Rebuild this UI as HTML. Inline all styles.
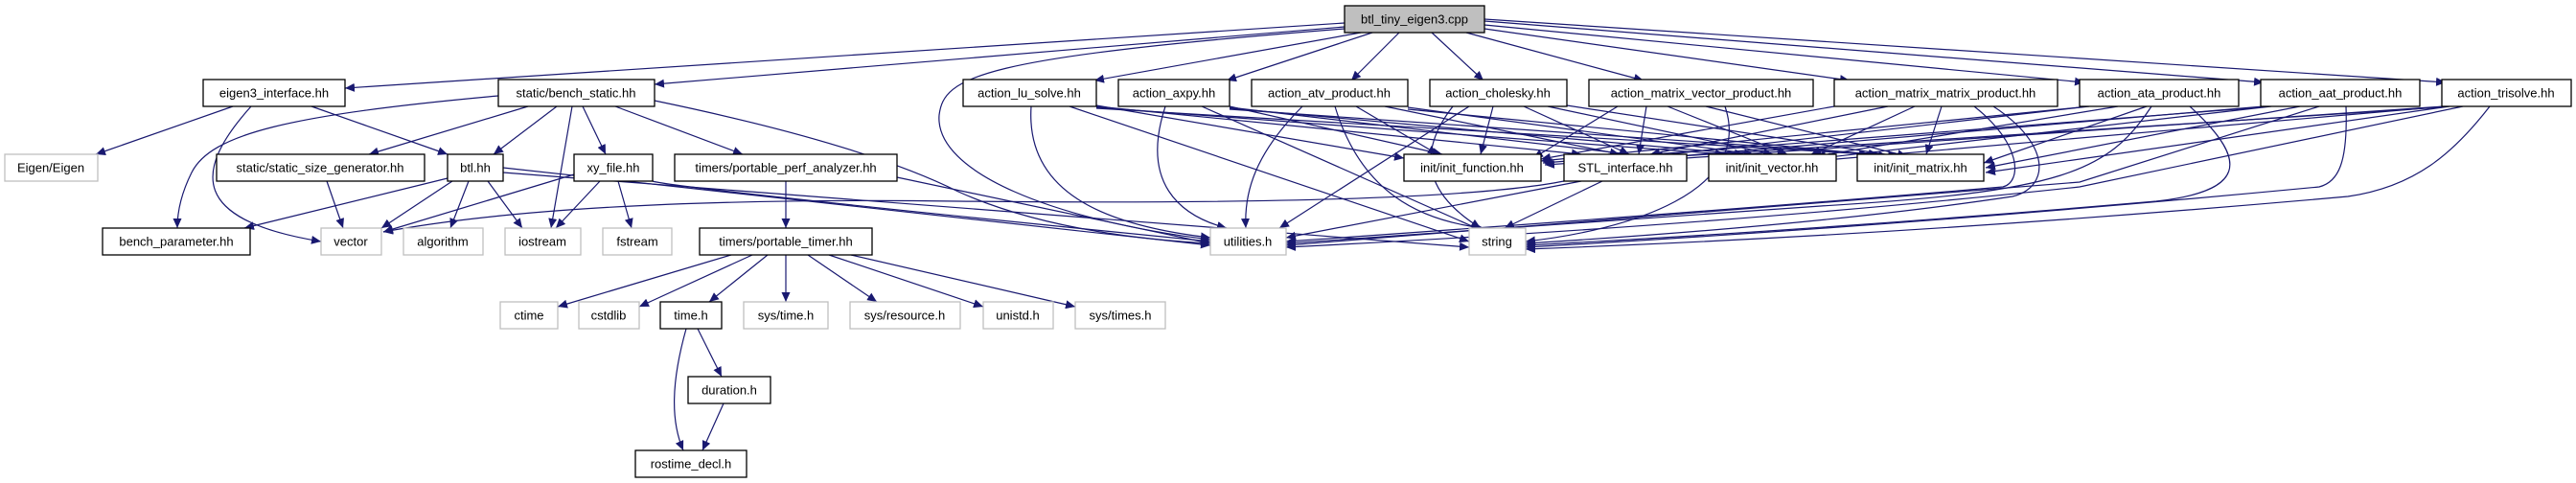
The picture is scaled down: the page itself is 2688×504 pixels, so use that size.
<!DOCTYPE html>
<html><head><meta charset="utf-8"><style>
html,body{margin:0;padding:0;background:#fff;}
svg{display:block;}
text{font-family:"Liberation Sans",sans-serif;font-size:13px;fill:#000;text-anchor:middle;}
.e{fill:none;stroke:#191970;stroke-width:1.2;}
.n{fill:#fff;stroke:#000;stroke-width:1.3;}
.g{fill:#fff;stroke:#bfbfbf;stroke-width:1.3;}
</style></head><body>
<svg width="2688" height="504" viewBox="0 0 2688 504" xmlns="http://www.w3.org/2000/svg">
<defs><marker id="a" markerUnits="userSpaceOnUse" markerWidth="11" markerHeight="9" refX="10" refY="4.5" orient="auto"><path d="M0,0 L10,4.5 L0,9 z" fill="#191970"/></marker></defs>
<g class="e" marker-end="url(#a)">
<!-- cpp -->
<path d="M1403,24 L360,92"/>
<path d="M1403,28 L683,88"/>
<path d="M1403,30 C1020,60 985,80 980,120 C975,180 1100,230 1263,250"/>
<path d="M1420,34 L1142,84"/>
<path d="M1432,34 L1280,84"/>
<path d="M1460,34 L1410,84"/>
<path d="M1494,34 L1548,84"/>
<path d="M1530,34 L1715,84"/>
<path d="M1549,30 L1930,84"/>
<path d="M1549,26 L2175,86"/>
<path d="M1549,22 L2362,86"/>
<path d="M1549,20 L2552,86"/>
<!-- eigen3 -->
<path d="M243,111 L100,161"/>
<path d="M325,111 L467,161"/>
<path d="M262,111 C200,180 200,230 335,252"/>
<!-- bench_static -->
<path d="M520,100 C300,120 220,140 200,180 Q185,210 185,238"/>
<path d="M551,111 L385,161"/>
<path d="M581,111 L515,161"/>
<path d="M597,111 L575,238"/>
<path d="M608,111 L632,161"/>
<path d="M642,111 L775,161"/>
<path d="M683,105 Q900,150 1000,200 Q1100,245 1263,254"/>
<path d="M341,189 L358,238"/>
<!-- btl -->
<path d="M467,186 L255,238"/>
<path d="M472,189 L398,238"/>
<path d="M489,189 L470,238"/>
<path d="M509,189 L545,238"/>
<path d="M525,175 L1263,256"/>
<path d="M525,180 L1533,258"/>
<!-- xy -->
<path d="M599,182 L400,242"/>
<path d="M626,189 L580,238"/>
<path d="M645,189 L659,238"/>
<path d="M681,189 Q700,196 1263,252"/>
<!-- perf -->
<path d="M820,189 L820,238"/>
<path d="M936,185 L1263,254"/>
<!-- STL -->
<path d="M1632,189 Q1500,215 1000,210 Q600,205 400,242"/>
<path d="M1650,189 L1342,248"/>
<path d="M1672,189 L1570,238"/>
<!-- timer -->
<path d="M763,266 L582,320"/>
<path d="M785,266 L667,320"/>
<path d="M801,266 L740,315"/>
<path d="M820,266 L820,315"/>
<path d="M843,266 L915,315"/>
<path d="M865,266 L1026,320"/>
<path d="M888,266 L1122,320"/>
<path d="M728,343 L753,393"/>
<path d="M716,343 C700,400 700,440 713,470"/>
<path d="M755,421 L733,470"/>
<!-- lu_solve -->
<path d="M1144,110 L1465,165"/>
<path d="M1144,111 L1650,161"/>
<path d="M1144,112 L1800,161"/>
<path d="M1144,113 L1950,161"/>
<path d="M1076,111 C1070,200 1150,235 1263,248"/>
<path d="M1116,111 L1533,252"/>
<!-- axpy -->
<path d="M1216,111 C1190,190 1230,225 1280,238"/>
<path d="M1254,111 L1545,240"/>
<path d="M1283,111 L1505,161"/>
<path d="M1283,112 L1700,161"/>
<path d="M1283,113 L1820,161"/>
<path d="M1283,114 L1960,161"/>
<!-- atv -->
<path d="M1359,111 C1310,160 1298,200 1300,238"/>
<path d="M1393,111 C1420,200 1480,230 1548,238"/>
<path d="M1415,111 L1500,161"/>
<path d="M1445,111 L1690,161"/>
<path d="M1469,112 L1830,161"/>
<path d="M1469,114 L1970,163"/>
<!-- cholesky -->
<path d="M1533,111 L1335,238"/>
<path d="M1516,111 C1470,170 1500,210 1545,238"/>
<path d="M1558,111 L1545,161"/>
<path d="M1590,111 L1700,161"/>
<path d="M1615,111 L1850,161"/>
<path d="M1635,110 L1980,163"/>
<!-- mvp -->
<path d="M1688,111 L1600,165"/>
<path d="M1718,111 L1710,161"/>
<path d="M1740,111 L1865,161"/>
<path d="M1780,111 L1990,163"/>
<path d="M1800,111 C1830,200 1700,240 1592,252"/>
<!-- mmp -->
<path d="M1914,111 L1608,166"/>
<path d="M1970,111 L1722,161"/>
<path d="M1998,111 L1890,161"/>
<path d="M2026,111 L2010,161"/>
<path d="M2060,111 C2110,150 2110,190 2090,195 Q1800,220 1342,252"/>
<path d="M2080,111 C2140,150 2140,195 2100,205 Q1900,235 1592,254"/>
<!-- ata -->
<path d="M2170,112 L1608,168"/>
<path d="M2180,111 L1725,163"/>
<path d="M2210,111 L1895,163"/>
<path d="M2240,111 L2070,170"/>
<path d="M2245,111 C2200,180 2150,200 1900,215 Q1600,235 1342,254"/>
<path d="M2285,111 C2350,170 2340,200 2250,210 Q1900,240 1592,256"/>
<!-- aat -->
<path d="M2359,112 L1610,170"/>
<path d="M2362,111 L1728,165"/>
<path d="M2370,111 L1900,165"/>
<path d="M2400,111 L2072,175"/>
<path d="M2420,111 L2170,190 Q1800,220 1342,256"/>
<path d="M2448,111 C2450,170 2440,190 2420,195 Q2000,235 1592,258"/>
<!-- trisolve -->
<path d="M2548,112 L1612,172"/>
<path d="M2550,111 L1730,167"/>
<path d="M2552,111 L1905,167"/>
<path d="M2556,111 L2072,180"/>
<path d="M2570,111 L2170,195 Q1800,235 1342,258"/>
<path d="M2598,111 C2560,160 2520,195 2450,205 Q2000,245 1592,260"/>
</g>
<g>
<rect x="1403" y="6" width="146" height="28" fill="#bfbfbf" stroke="#000" stroke-width="1.3"/><text x="1476" y="24.5">btl_tiny_eigen3.cpp</text>
<rect class="n" x="212" y="83" width="148" height="28"/><text x="286" y="101.5">eigen3_interface.hh</text>
<rect class="n" x="520" y="83" width="163" height="28"/><text x="601" y="101.5">static/bench_static.hh</text>
<rect class="n" x="1005" y="83" width="139" height="28"/><text x="1074" y="101.5">action_lu_solve.hh</text>
<rect class="n" x="1167" y="83" width="116" height="28"/><text x="1225" y="101.5">action_axpy.hh</text>
<rect class="n" x="1306" y="83" width="163" height="28"/><text x="1387" y="101.5">action_atv_product.hh</text>
<rect class="n" x="1492" y="83" width="143" height="28"/><text x="1563" y="101.5">action_cholesky.hh</text>
<rect class="n" x="1658" y="83" width="234" height="28"/><text x="1775" y="101.5">action_matrix_vector_product.hh</text>
<rect class="n" x="1914" y="83" width="233" height="28"/><text x="2030" y="101.5">action_matrix_matrix_product.hh</text>
<rect class="n" x="2170" y="83" width="166" height="28"/><text x="2253" y="101.5">action_ata_product.hh</text>
<rect class="n" x="2359" y="83" width="166" height="28"/><text x="2442" y="101.5">action_aat_product.hh</text>
<rect class="n" x="2548" y="83" width="135" height="28"/><text x="2615" y="101.5">action_trisolve.hh</text>
<rect class="g" x="5" y="161" width="97" height="28"/><text x="53" y="179.5">Eigen/Eigen</text>
<rect class="n" x="226" y="161" width="217" height="28"/><text x="334" y="179.5">static/static_size_generator.hh</text>
<rect class="n" x="467" y="161" width="58" height="28"/><text x="496" y="179.5">btl.hh</text>
<rect class="n" x="599" y="161" width="82" height="28"/><text x="640" y="179.5">xy_file.hh</text>
<rect class="n" x="704" y="161" width="232" height="28"/><text x="820" y="179.5">timers/portable_perf_analyzer.hh</text>
<rect class="n" x="1465" y="161" width="143" height="28"/><text x="1536" y="179.5">init/init_function.hh</text>
<rect class="n" x="1632" y="161" width="128" height="28"/><text x="1696" y="179.5">STL_interface.hh</text>
<rect class="n" x="1783" y="161" width="133" height="28"/><text x="1849" y="179.5">init/init_vector.hh</text>
<rect class="n" x="1938" y="161" width="132" height="28"/><text x="2004" y="179.5">init/init_matrix.hh</text>
<rect class="n" x="107" y="238" width="154" height="28"/><text x="184" y="256.5">bench_parameter.hh</text>
<rect class="g" x="335" y="238" width="63" height="28"/><text x="366" y="256.5">vector</text>
<rect class="g" x="421" y="238" width="83" height="28"/><text x="462" y="256.5">algorithm</text>
<rect class="g" x="527" y="238" width="79" height="28"/><text x="566" y="256.5">iostream</text>
<rect class="g" x="629" y="238" width="72" height="28"/><text x="665" y="256.5">fstream</text>
<rect class="n" x="730" y="238" width="180" height="28"/><text x="820" y="256.5">timers/portable_timer.hh</text>
<rect class="g" x="1263" y="238" width="79" height="28"/><text x="1302" y="256.5">utilities.h</text>
<rect class="g" x="1533" y="238" width="59" height="28"/><text x="1562" y="256.5">string</text>
<rect class="g" x="522" y="315" width="60" height="28"/><text x="552" y="333.5">ctime</text>
<rect class="g" x="604" y="315" width="63" height="28"/><text x="635" y="333.5">cstdlib</text>
<rect class="n" x="689" y="315" width="64" height="28"/><text x="721" y="333.5">time.h</text>
<rect class="g" x="776" y="315" width="88" height="28"/><text x="820" y="333.5">sys/time.h</text>
<rect class="g" x="887" y="315" width="115" height="28"/><text x="944" y="333.5">sys/resource.h</text>
<rect class="g" x="1026" y="315" width="73" height="28"/><text x="1062" y="333.5">unistd.h</text>
<rect class="g" x="1122" y="315" width="94" height="28"/><text x="1169" y="333.5">sys/times.h</text>
<rect class="n" x="718" y="393" width="86" height="28"/><text x="761" y="411.5">duration.h</text>
<rect class="n" x="663" y="470" width="116" height="28"/><text x="721" y="488.5">rostime_decl.h</text>
</g>
</svg>
</body></html>
